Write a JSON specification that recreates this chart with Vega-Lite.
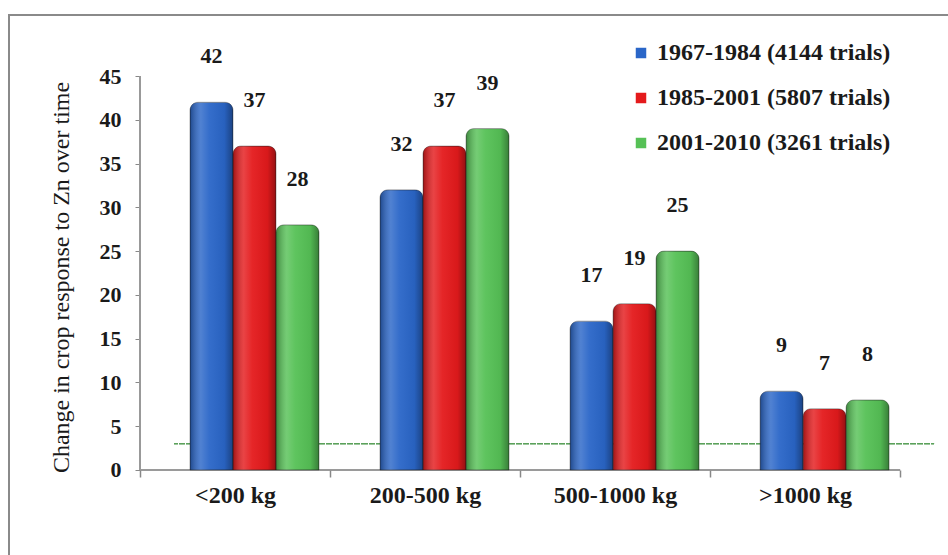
{
  "$schema": "https://vega.github.io/schema/vega-lite/v6.json",
  "width": 941,
  "height": 545,
  "autosize": {"type": "none"},
  "padding": {"left": 9, "top": 15, "right": 0, "bottom": 0},
  "background": "white",
  "config": {
    "view": {"stroke": "#8a8a8a", "strokeWidth": 2},
    "font": "Liberation Serif",
    "axis": {"labelFont": "Liberation Serif", "titleFont": "Liberation Serif"},
    "legend": {"labelFont": "Liberation Serif", "titleFont": "Liberation Serif"},
    "text": {"font": "Liberation Serif"}
  },
  "data": {
    "values": [
      {"size": "<200 kg", "period": "1967-1984 (4144 trials)", "value": 42},
      {"size": "<200 kg", "period": "1985-2001 (5807 trials)", "value": 37},
      {"size": "<200 kg", "period": "2001-2010 (3261 trials)", "value": 28},
      {"size": "200-500 kg", "period": "1967-1984 (4144 trials)", "value": 32},
      {"size": "200-500 kg", "period": "1985-2001 (5807 trials)", "value": 37},
      {"size": "200-500 kg", "period": "2001-2010 (3261 trials)", "value": 39},
      {"size": "500-1000 kg", "period": "1967-1984 (4144 trials)", "value": 17},
      {"size": "500-1000 kg", "period": "1985-2001 (5807 trials)", "value": 19},
      {"size": "500-1000 kg", "period": "2001-2010 (3261 trials)", "value": 25},
      {"size": ">1000 kg", "period": "1967-1984 (4144 trials)", "value": 9},
      {"size": ">1000 kg", "period": "1985-2001 (5807 trials)", "value": 7},
      {"size": ">1000 kg", "period": "2001-2010 (3261 trials)", "value": 8}
    ]
  },
  "encoding": {
    "x": {
      "field": "size",
      "type": "nominal",
      "sort": ["<200 kg", "200-500 kg", "500-1000 kg", ">1000 kg"],
      "scale": {"paddingInner": 0, "paddingOuter": 0.476, "align": 0.724},
      "axis": {
        "title": null,
        "offset": -90,
        "domain": false,
        "tickBand": "extent",
        "tickSize": 7,
        "tickColor": "#888888",
        "tickWidth": 1.5,
        "labelAngle": 0,
        "labelFont": "Liberation Serif",
        "labelFontSize": 24,
        "labelFontWeight": "bold",
        "labelPadding": 6,
        "labelColor": "#1a1a1a"
      }
    },
    "y": {
      "field": "value",
      "type": "quantitative",
      "scale": {"domain": [-10.28, 51.97], "nice": false, "zero": false},
      "axis": {
        "title": "Change in crop response to Zn over time",
        "offset": -131,
        "values": [0, 5, 10, 15, 20, 25, 30, 35, 40, 45],
        "domain": false,
        "grid": false,
        "tickSize": 5,
        "tickColor": "#888888",
        "labelFont": "Liberation Serif",
        "labelFontSize": 22,
        "labelFontWeight": "bold",
        "labelPadding": 14,
        "labelColor": "#1a1a1a",
        "titleFont": "Liberation Serif",
        "titleFontSize": 24,
        "titleFontWeight": "normal",
        "titleColor": "#1a1a1a",
        "titlePadding": 26,
        "titleY": 262
      }
    }
  },
  "layer": [
    {
      "mark": {"type": "rect", "fill": null, "stroke": "#5aa05a", "strokeWidth": 1.2, "strokeDash": [4, 3], "xOffset": 34},
      "encoding": {
        "y": {"datum": 3},
        "y2": {"datum": 3}
      }
    },
    {
      "mark": {"type": "rect", "fill": null, "stroke": "#9a9a9a", "strokeWidth": 2},
      "encoding": {
        "y": {"datum": 0},
        "y2": {"datum": 0}
      }
    },
    {
      "mark": {"type": "rule", "stroke": "#9a9a9a", "strokeWidth": 1.2},
      "encoding": {
        "x": {"datum": "<200 kg", "bandPosition": 0},
        "y": {"datum": 0},
        "y2": {"datum": 45}
      }
    },
    {
      "mark": {"type": "bar", "cornerRadiusTopLeft": 8, "cornerRadiusTopRight": 8, "stroke": "#222222", "strokeWidth": 0.6, "strokeOpacity": 0.6},
      "encoding": {
        "xOffset": {
          "field": "period",
          "sort": ["1967-1984 (4144 trials)", "1985-2001 (5807 trials)", "2001-2010 (3261 trials)"],
          "scale": {"paddingInner": 0, "paddingOuter": 0.709, "align": 0.82}
        },
        "color": {
          "field": "period",
          "type": "nominal",
          "sort": ["1967-1984 (4144 trials)", "1985-2001 (5807 trials)", "2001-2010 (3261 trials)"],
          "scale": {
            "domain": ["1967-1984 (4144 trials)", "1985-2001 (5807 trials)", "2001-2010 (3261 trials)"],
            "range": ["#2a66c8", "#e41a1c", "#56c156"]
          },
          "legend": {
            "title": null,
            "orient": "none",
            "legendX": 620,
            "legendY": 26,
            "symbolType": "square",
            "symbolSize": 110,
            "symbolStrokeWidth": 0,
            "labelFont": "Liberation Serif",
            "labelFontSize": 24,
            "labelFontWeight": "bold",
            "labelColor": "#1a1a1a",
            "labelOffset": 4,
            "labelLimit": 400,
            "rowPadding": 21
          }
        }
      }
    },
    {
      "mark": {
        "type": "bar",
        "cornerRadiusTopLeft": 8,
        "cornerRadiusTopRight": 8,
        "fill": {
          "gradient": "linear",
          "x1": 0, "y1": 0, "x2": 1, "y2": 0,
          "stops": [
            {"offset": 0, "color": "rgba(0,0,0,0.30)"},
            {"offset": 0.25, "color": "rgba(255,255,255,0.18)"},
            {"offset": 0.45, "color": "rgba(255,255,255,0.05)"},
            {"offset": 0.8, "color": "rgba(0,0,0,0.05)"},
            {"offset": 1, "color": "rgba(0,0,0,0.35)"}
          ]
        }
      },
      "encoding": {
        "xOffset": {
          "field": "period",
          "sort": ["1967-1984 (4144 trials)", "1985-2001 (5807 trials)", "2001-2010 (3261 trials)"]
        }
      }
    },
    {
      "mark": {"type": "text", "font": "Liberation Serif", "baseline": "middle", "dy": -46, "fontSize": 22, "fontWeight": "bold", "color": "#1a1a1a"},
      "encoding": {
        "xOffset": {
          "field": "period",
          "sort": ["1967-1984 (4144 trials)", "1985-2001 (5807 trials)", "2001-2010 (3261 trials)"]
        },
        "text": {"field": "value", "type": "quantitative"}
      }
    }
  ]
}
